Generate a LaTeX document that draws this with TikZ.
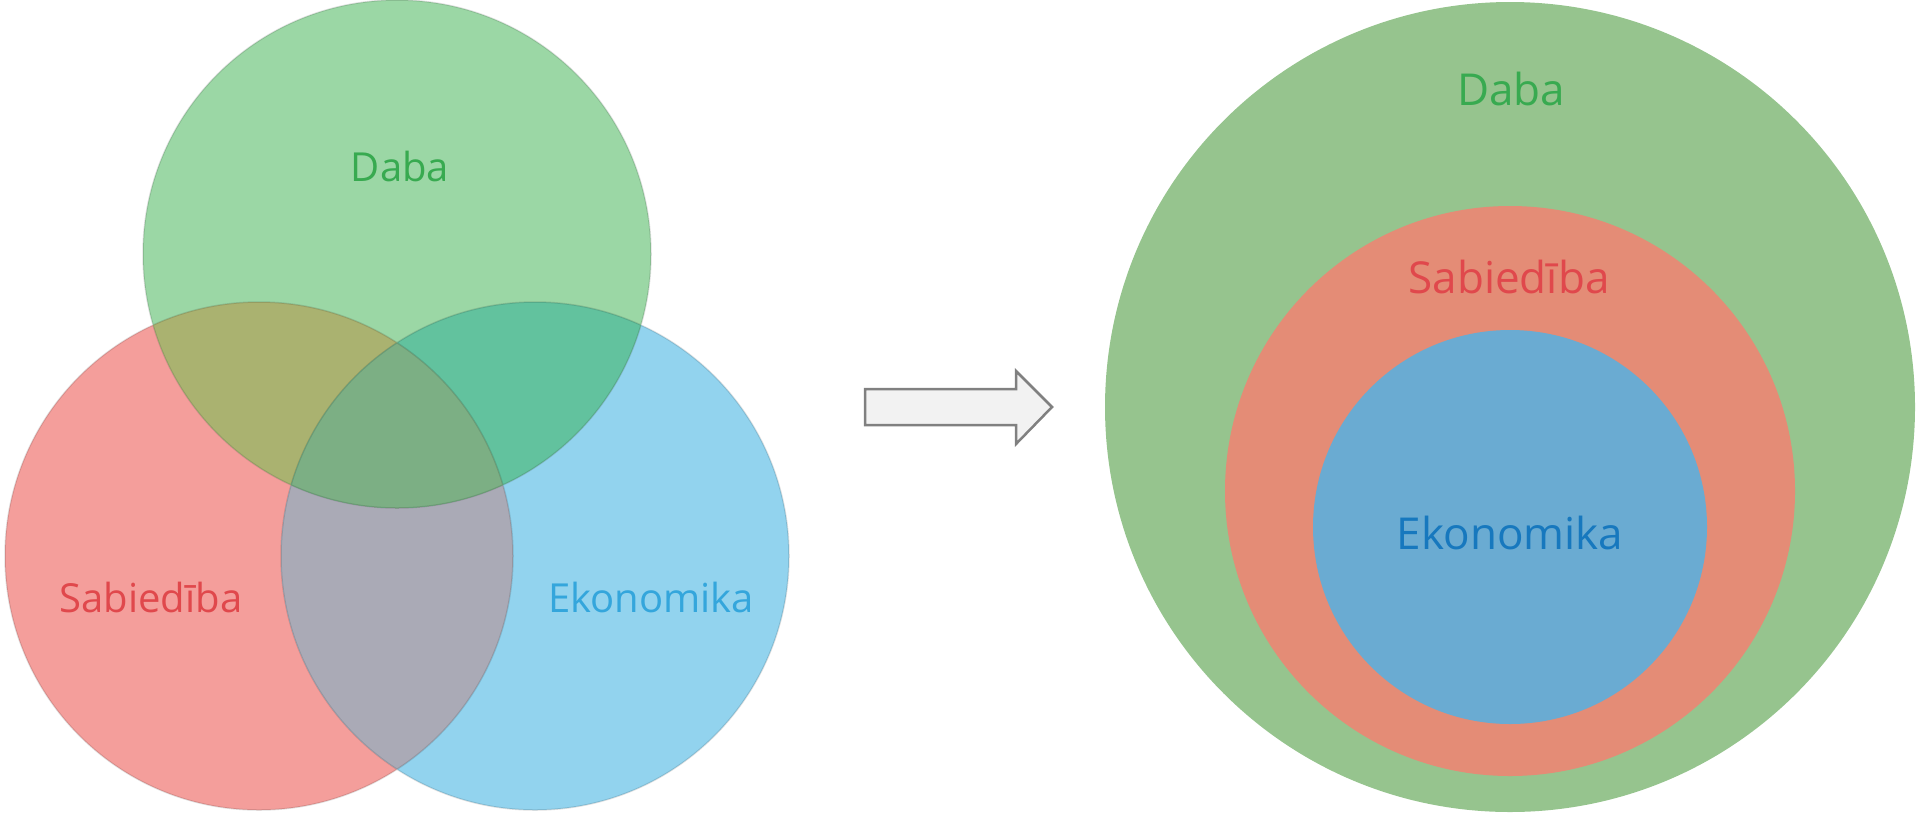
\documentclass[tikz,border=0pt]{standalone}
\usepackage{fontspec}
\setmainfont{Open Sans}
\definecolor{dabaFill}{HTML}{9BD7A5}
\definecolor{sabFill}{HTML}{F49E9B}
\definecolor{ekoFill}{HTML}{92D3EE}
\definecolor{dabaSab}{HTML}{AAB270}
\definecolor{dabaEko}{HTML}{62C29E}
\definecolor{sabEko}{HTML}{AAAAB6}
\definecolor{allThree}{HTML}{7CAF84}
\definecolor{dabaRing}{HTML}{96C48E}
\definecolor{sabRing}{HTML}{E48C76}
\definecolor{ekoRing}{HTML}{6AABD2}
\definecolor{dabaText}{HTML}{38AA50}
\definecolor{sabText}{HTML}{E0484C}
\definecolor{ekoText}{HTML}{34A6DC}
\definecolor{ekoTextDark}{HTML}{1778BE}
\tikzset{lbl/.style={inner sep=0pt,anchor=base,font=\fontsize{40}{48}\selectfont},
  biglbl/.style={lbl,font=\fontsize{44}{52}\selectfont},
  edge/.style={draw=black,draw opacity=0.12,line width=1.5pt},
  arrowshape/.style={draw=black!50,fill=black!5,line width=2.5pt,line join=miter}}

\begin{document}
\begin{tikzpicture}[x=1pt,y=-1pt]
\useasboundingbox (0,0) rectangle (1921,815);
\coordinate (D) at (397,254);
\coordinate (S) at (259,556);
\coordinate (E) at (535,556);
\fill[sabFill] (S) circle[radius=254pt];
\fill[ekoFill] (E) circle[radius=254pt];
\fill[dabaFill] (D) circle[radius=254pt];
\begin{scope}
\clip (S) circle[radius=254pt];
\fill[sabEko] (E) circle[radius=254pt];
\fill[dabaSab] (D) circle[radius=254pt];
\clip (E) circle[radius=254pt];
\fill[allThree] (D) circle[radius=254pt];
\end{scope}
\begin{scope}
\clip (E) circle[radius=254pt];
\clip (D) circle[radius=254pt];
\fill[dabaEko] (S) ++(-300,-300) rectangle ++(900,900);
\clip (S) circle[radius=254pt];
\fill[allThree] (S) ++(-300,-300) rectangle ++(900,900);
\end{scope}
\draw[edge] (S) circle[radius=254pt] (E) circle[radius=254pt] (D) circle[radius=254pt];
\node[lbl,text=dabaText] (daba1) at (400,181) {Daba};
\node[lbl,text=sabText] (sab1) at (151,612) {Sabiedība};
\node[lbl,text=ekoText] (eko1) at (651,612) {Ekonomika};

\draw[arrowshape] (865,389) -- (1016,389) -- (1016,371) -- (1052,407) -- (1016,444) -- (1016,425) -- (865,425) -- cycle;

\coordinate (C) at (1510,407);
\fill[dabaRing] (C) circle[radius=405pt];
\fill[sabRing] (1510,491) circle[radius=285pt];
\fill[ekoRing] (1510,527) circle[radius=197pt];
\node[biglbl,text=dabaText] (daba2) at (1511,105) {Daba};
\node[biglbl,text=sabText] (sab2) at (1509,293) {Sabiedība};
\node[biglbl,text=ekoTextDark] (eko2) at (1510,549) {Ekonomika};
\end{tikzpicture}
\end{document}
